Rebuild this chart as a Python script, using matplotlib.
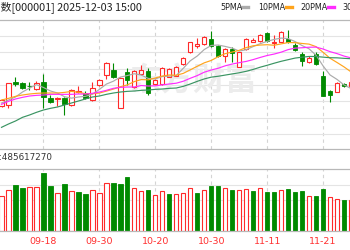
import matplotlib
matplotlib.use("Agg")
import matplotlib.pyplot as plt
from matplotlib.lines import Line2D
import numpy as np
import pandas as pd

# --- daily bars (index points) ---
opens = [3812, 3814, 3884, 3881, 3872, 3862, 3882, 3836, 3832, 3836,
         3814, 3852, 3849, 3829, 3874, 3904, 3919, 3806, 3914, 3869,
         3906, 3916, 3877, 3876, 3899, 3902, 3936, 3972, 3992, 3996,
         4012, 3991, 3962, 3981, 3929, 3981, 4004, 4006, 4029, 4001,
         4004, 4012, 3994, 3966, 3944, 3966, 3902, 3856, 3854, 3877, 3871]
highs = [3832, 3881, 3899, 3884, 3884, 3886, 3906, 3844, 3839, 3839,
         3862, 3871, 3856, 3884, 3892, 3944, 3939, 3897, 3924, 3919,
         3934, 3924, 3892, 3929, 3925, 3931, 3958, 4003, 4016, 4022,
         4036, 3994, 3986, 3989, 3974, 4014, 4016, 4026, 4032, 4024,
         4036, 4039, 3999, 3972, 3962, 3972, 3916, 3859, 3884, 3880, 3886]
lows = [3808, 3805, 3872, 3862, 3859, 3859, 3804, 3820, 3812, 3784,
        3812, 3849, 3832, 3827, 3872, 3892, 3894, 3805, 3874, 3866,
        3904, 3844, 3874, 3874, 3898, 3901, 3934, 3969, 3984, 3994,
        3989, 3959, 3944, 3944, 3929, 3979, 4002, 4004, 4004, 3984,
        4002, 3999, 3976, 3932, 3939, 3934, 3842, 3822, 3852, 3868, 3868]
closes = [3829, 3881, 3876, 3866, 3871, 3881, 3839, 3824, 3835, 3816,
          3859, 3856, 3834, 3866, 3889, 3939, 3899, 3896, 3889, 3916,
          3919, 3849, 3889, 3924, 3922, 3929, 3956, 4002, 3996, 4019,
          3991, 3962, 3981, 3971, 3974, 4012, 4009, 4024, 4006, 4003,
          4032, 4002, 3979, 3946, 3954, 3936, 3842, 3843, 3879, 3871, 3883]
# volume in millions of shares; up = close not below previous close
volumes_m = [274, 321, 360, 337, 345, 345, 454, 352, 298, 368,
             313, 305, 290, 321, 298, 376, 376, 368, 423, 337,
             313, 321, 282, 313, 290, 290, 298, 337, 298, 321,
             352, 352, 337, 321, 321, 329, 313, 337, 305, 305,
             321, 329, 305, 313, 274, 274, 329, 266, 251, 243, 240]
vol_up = [1, 1, 0, 0, 1, 1, 0, 0, 1, 0, 1, 0, 0, 1, 1, 1, 0, 0, 0, 1,
          1, 0, 1, 1, 0, 1, 1, 1, 0, 1, 0, 0, 1, 0, 1, 1, 0, 1, 0, 0,
          1, 0, 0, 0, 1, 0, 0, 1, 1, 0, 1]
VOL_MAX = 485617270

# moving averages for the first bars (they use days left of the picture)
ma5_head = [3820, 3829, 3838, 3853]
ma10_head = [3829, 3834, 3840, 3844, 3847, 3849, 3850, 3850, 3850]
ma20_head = [3816, 3825, 3832, 3837, 3841, 3843, 3844, 3846, 3846, 3846,
             3846, 3847, 3847, 3849, 3853, 3858, 3864, 3867, 3868]
ma30_head = [3747, 3757, 3766, 3777, 3784, 3792, 3799, 3804, 3808, 3814,
             3820, 3826, 3832, 3838, 3841, 3846, 3850, 3853, 3855, 3856,
             3858, 3859, 3861, 3862, 3864, 3865, 3870, 3877, 3885]

date_labels = ["09-08", "09-18", "09-30", "10-20", "10-30", "11-11", "11-21"]
date_pos = [-1, 7, 15, 23, 31, 39, 47]

RED = "#ff2a2a"
GREEN = "#008a00"
W, H = 350, 250

x = np.arange(1, len(closes) + 1)
o = np.array(opens, dtype=float)
c = np.array(closes, dtype=float)
hi = np.array(highs, dtype=float)
lo = np.array(lows, dtype=float)
up = c >= o

close_s = pd.Series(c)


def moving_avg(n, head):
    ma = close_s.rolling(n).mean()
    ma.iloc[:n - 1] = head
    return ma


fig = plt.figure(figsize=(W / 100, H / 100), dpi=100)
ax = fig.add_axes([0, 1 - 148.5 / H, 1, (148.5 - 19.7) / H])
axv = fig.add_axes([0, 1 - 231 / H, 1, 62 / H])

for a in (ax, axv):
    a.set_xlim(0.785, 50.856)
    for side in ("left", "right"):
        a.spines[side].set_visible(False)
    for side in ("top", "bottom"):
        a.spines[side].set_color("#b8b8b8")
        a.spines[side].set_linewidth(0.9)
    a.tick_params(length=0, labelleft=False, labelbottom=False)
    a.set_xticks([p for p in date_pos if p > 0])
    a.grid(True, axis="y", color="#e4e4e4", lw=0.8)
    a.grid(True, axis="x", color="#d4d4d4", lw=0.8, ls=(0, (3, 3)))
    a.set_axisbelow(True)

# --- price panel ---
ax.set_ylim(3683.5, 4070)
ax.set_yticks(np.arange(4070 - 49, 3683.5, -49))

ax.text(257 / W, 1 - 82 / H, "东方财富", transform=fig.transFigure,
        ha="right", va="center", fontsize=23, fontweight="bold",
        color="#ececec", family="Noto Sans CJK SC", zorder=0.6)

bw = 0.62
body_lo = np.minimum(o, c)
body_hi = np.maximum(o, c)
body_h = np.maximum(body_hi - body_lo, 0.8)
ax.bar(x[up], body_h[up], bottom=body_lo[up], width=bw,
       facecolor="white", edgecolor=RED, lw=0.8, zorder=2)
ax.bar(x[~up], body_h[~up], bottom=body_lo[~up], width=bw,
       facecolor=GREEN, edgecolor=GREEN, lw=0.6, zorder=2)
ax.vlines(x[up], body_hi[up], hi[up], color=RED, lw=0.8, zorder=2)
ax.vlines(x[up], lo[up], body_lo[up], color=RED, lw=0.8, zorder=2)
ax.vlines(x[~up], lo[~up], hi[~up], color=GREEN, lw=0.8, zorder=1.9)

ma_styles = [(5, ma5_head, "#ababab"), (10, ma10_head, "#ffa41c"),
             (20, ma20_head, "#ff2cff"), (30, ma30_head, "#3a9462")]
for n, head, col in ma_styles:
    ax.plot(x, moving_avg(n, head), color=col, lw=0.85, zorder=3)

# --- volume panel ---
axv.set_ylim(0, VOL_MAX)
axv.set_yticks([VOL_MAX * k / 4 for k in (1, 2, 3)])
vol = np.array(volumes_m, dtype=float) * 1e6
vup = np.array(vol_up, dtype=bool)
axv.bar(x[vup], vol[vup], width=bw, facecolor="white", edgecolor=RED, lw=0.8)
axv.bar(x[~vup], vol[~vup], width=bw, facecolor=GREEN, edgecolor=GREEN, lw=0.6)

for p, lab in zip(date_pos, date_labels):
    axv.text(p, -10 / 62, lab, transform=axv.get_xaxis_transform(),
             ha="center", va="center", fontsize=6.8, color="#ff3030",
             clip_on=False)

fig.text(-1 / W, 1 - 158 / H, ":" + str(VOL_MAX), ha="left", va="center",
         fontsize=6.3, color="#333333")

# --- header: title and MA legend ---
fig.text(142 / W, 1 - 7 / H, "上证指数[000001] 2025-12-03 15:00",
         ha="right", va="center", fontsize=7.8, color="#222222",
         family=["Noto Sans CJK SC", "DejaVu Sans"])

legend_x = [220, 258, 300, 342]
legend_names = ["5PMA", "10PMA", "20PMA", "30PMA"]
for lx, name, (n, head, col) in zip(legend_x, legend_names, ma_styles):
    t = fig.text(lx / W, 1 - 7 / H, name, ha="left", va="center",
                 fontsize=5.8, color="#222222")
    fig.add_artist(Line2D([(lx + 22 + 6 * (name != "5PMA")) / W,
                           (lx + 28 + 6 * (name != "5PMA")) / W],
                          [1 - 7 / H, 1 - 7 / H], color=col, lw=2.4,
                          transform=fig.transFigure))

fig.savefig("out.png", dpi=100)
